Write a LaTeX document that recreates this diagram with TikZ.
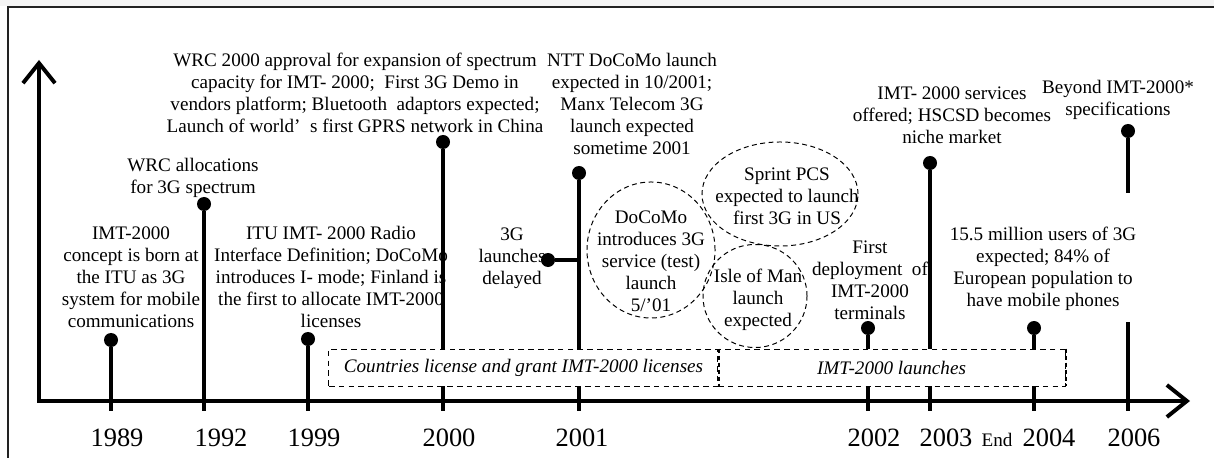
\documentclass[tikz,border=0pt]{standalone}
\usepackage{fontspec}
\setmainfont{Liberation Serif}
\usetikzlibrary{shapes.geometric, arrows.meta, positioning}
\definecolor{framegray}{RGB}{34,34,34}
\definecolor{stripgray}{RGB}{244,244,244}

\begin{document}
\begin{tikzpicture}[
    x=0.025cm, y=-0.025cm,
    note/.style={align=center, inner sep=0pt, font=\fontsize{13.6}{15.65}\selectfont},
    year/.style={inner sep=0pt, font=\fontsize{18.8}{20}\selectfont},
    dot/.style={circle, fill=black, inner sep=0pt, minimum size=0.35cm},
    stem/.style={line width=2.5pt},
    axis/.style={line width=2.8pt, {Straight Barb[length=5mm,width=8mm]}-{Straight Barb[length=5mm,width=8mm]}},
    bubble/.style={draw, dash pattern=on 3.5pt off 2.5pt, ellipse, inner sep=0pt, line width=0.7pt},
    period/.style={draw, dash pattern=on 4pt off 3pt, fill=white, inner sep=0pt, line width=0.7pt, minimum height=0.925cm, font=\fontsize{13.6}{15.65}\selectfont\itshape}
]
    \useasboundingbox (0,0) rectangle (1214,458);
    \fill[stripgray] (0,0) rectangle (1214,6);
    \draw[framegray, line width=1.5pt] (8,458) -- (8,7) -- (1214,7);

    % event texts
    \node[note] (n1989) at (131,277) {IMT-2000\\concept is born at\\the ITU as 3G\\system for mobile\\communications};
    \node[note] (n1992) at (193,178) {WRC allocations\\for 3G spectrum};
    \node[note] (n1999) at (331,277) {ITU IMT- 2000 Radio\\Interface Definition; DoCoMo\\introduces I- mode; Finland is\\the first to allocate IMT-2000\\licenses};
    \node[note] (n2000) at (355,93) {WRC 2000 approval for expansion of spectrum\\capacity for IMT- 2000;\enspace First 3G Demo in\\vendors platform; Bluetooth\enspace adaptors expected;\\Launch of world’\enspace s first GPRS network in China};
    \node[note] (n2001) at (632,104) {NTT DoCoMo launch\\expected in 10/2001;\\Manx Telecom 3G\\launch expected\\sometime 2001};
    \node[note] (nlate) at (512,258) {3G\\launches\\delayed};
    \node[note] (n2002) at (870,280) {First\\deployment\enspace of\\IMT-2000\\terminals};
    \node[note] (n2003) at (952,115) {IMT- 2000 services\\offered; HSCSD becomes\\niche market};
    \node[note] (n2004) at (1043,269) {15.5 million users of 3G\\expected; 84\% of\\European population to\\have mobile phones};
    \node[note] (n2006) at (1118,100) {Beyond IMT-2000*\\specifications};

    % ticks and years
    \foreach \yr/\px/\lx in {1989/111/117, 1992/204/221, 1999/308/314, 2000/443/449, 2001/579/582, 2002/868/874, 2003/930/946, 2004/1034/1049, 2006/1128/1134} {
        \coordinate (t\yr) at (\px,411);
        \node[year] (y\yr) at (\lx,438) {\yr};
    }
    \node[note] (yend) at (997,440) {End};

    % stems
    \node[dot] (d1989) at (111,340) {};
    \node[dot] (d1992) at (204,204) {};
    \node[dot] (d1999) at (308,339) {};
    \node[dot] (d2000) at (443,142) {};
    \node[dot] (d2001) at (579,173) {};
    \node[dot] (dlate) at (548,260) {};
    \node[dot] (d2002) at (868,328) {};
    \node[dot] (d2003) at (930,163) {};
    \node[dot] (d2004) at (1034,328) {};
    \node[dot] (d2006) at (1128,131) {};
    \coordinate (j2001) at (579,260);
    \coordinate (g2006a) at (1128,193);
    \coordinate (g2006b) at (1128,322);

    \foreach \yr in {1989, 1992, 1999, 2000, 2001, 2002, 2003, 2004}
        \draw[stem] (d\yr) -- (t\yr);
    \draw[stem] (dlate) -- (j2001);
    \draw[stem] (d2006) -- (g2006a);
    \draw[stem] (g2006b) -- (t2006);

    % licensing and launch periods
    \node[period, minimum width=9.725cm] (grant) at (523.5,367.5) {Countries license and grant IMT-2000 licenses};
    \node[period, minimum width=8.675cm] (launch) at (891.5,367.5) {IMT-2000 launches};
    \draw[line width=1.4pt, dash pattern=on 3pt off 2pt] (grant.north east) -- (grant.south east);
    \draw[line width=1.4pt, dash pattern=on 3pt off 2pt] (launch.north east) -- (launch.south east);

    % 2001 launches
    \node[bubble, minimum width=3.2cm, minimum height=3.4cm] (edocomo) at (651,250) {};
    \node[bubble, minimum width=3.9cm, minimum height=2.6cm] (esprint) at (780,194) {};
    \node[bubble, minimum width=2.6cm, minimum height=2.575cm] (eman) at (755,296) {};
    \node[note] (tdocomo) at (651,261) {DoCoMo\\introduces 3G\\service (test)\\launch\\5/’01};
    \node[note] (tsprint) at (787,196) {Sprint PCS\\expected to launch\\first 3G in US};
    \node[note] (tman) at (758,300) {Isle of Man\\launch\\expected};

    % axes
    \coordinate (ytop) at (39,60);
    \coordinate (xend) at (1190,401);
    \draw[axis] (ytop) |- (xend);
\end{tikzpicture}
\end{document}
